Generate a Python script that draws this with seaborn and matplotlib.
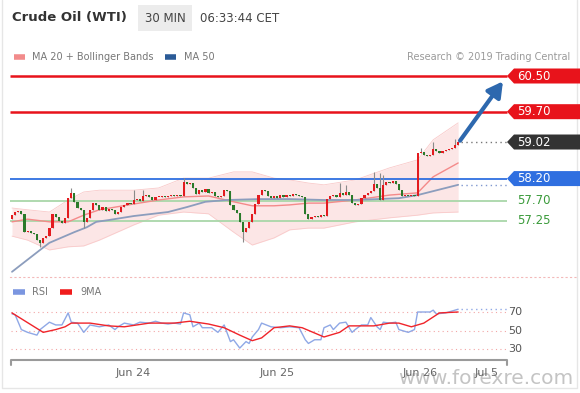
import numpy as np
import pandas as pd
import matplotlib
matplotlib.use("Agg")
import matplotlib.pyplot as plt
from matplotlib.patches import Polygon
import seaborn as sns

# 30 min candles, oldest first (bar index on x)
opens = [57.29, 57.38, 57.45, 57.47, 57.41, 57.00, 57.03, 56.98, 56.96, 56.82,
         56.76, 56.87, 56.91, 57.09, 57.41, 57.34, 57.25, 57.20, 57.32, 57.76,
         57.88, 57.68, 57.54, 57.50, 57.23, 57.32, 57.50, 57.65, 57.61, 57.50,
         57.56, 57.47, 57.52, 57.50, 57.41, 57.45, 57.56, 57.61, 57.65, 57.63,
         57.72, 57.74, 57.70, 57.81, 57.83, 57.79, 57.72, 57.79, 57.79, 57.81,
         57.79, 57.81, 57.83, 57.81, 57.83, 57.81, 58.12, 58.08, 58.10, 57.99,
         57.85, 57.94, 57.90, 57.97, 57.88, 57.90, 57.81, 57.79, 57.81, 57.94,
         57.92, 57.61, 57.50, 57.43, 57.23, 57.00, 57.09, 57.23, 57.41, 57.63,
         57.83, 57.94, 57.92, 57.81, 57.76, 57.81, 57.76, 57.83, 57.79, 57.83,
         57.81, 57.85, 57.83, 57.81, 57.79, 57.41, 57.29, 57.34, 57.36, 57.34,
         57.38, 57.36, 57.74, 57.81, 57.83, 57.79, 57.88, 57.83, 57.90, 57.83,
         57.65, 57.61, 57.63, 57.76, 57.83, 57.88, 57.92, 58.08, 57.99, 57.72,
         58.06, 58.12, 58.10, 58.15, 58.08, 57.94, 57.81, 57.83, 57.81, 57.83,
         57.81, 58.77, 58.80, 58.73, 58.71, 58.73, 58.86, 58.82, 58.77, 58.82,
         58.84, 58.86, 58.89, 58.95]
closes = [57.38, 57.45, 57.47, 57.41, 57.00, 57.03, 56.98, 56.96, 56.82, 56.76,
          56.87, 56.91, 57.09, 57.41, 57.34, 57.25, 57.20, 57.32, 57.76, 57.88,
          57.68, 57.54, 57.50, 57.23, 57.32, 57.50, 57.65, 57.61, 57.50, 57.56,
          57.47, 57.52, 57.50, 57.41, 57.45, 57.56, 57.61, 57.65, 57.63, 57.72,
          57.74, 57.70, 57.81, 57.83, 57.79, 57.72, 57.79, 57.79, 57.81, 57.79,
          57.81, 57.83, 57.81, 57.83, 57.81, 58.12, 58.08, 58.10, 57.99, 57.85,
          57.94, 57.90, 57.97, 57.88, 57.90, 57.81, 57.79, 57.81, 57.94, 57.92,
          57.61, 57.50, 57.43, 57.23, 57.00, 57.09, 57.23, 57.41, 57.63, 57.83,
          57.94, 57.92, 57.81, 57.76, 57.81, 57.76, 57.83, 57.79, 57.83, 57.81,
          57.85, 57.83, 57.81, 57.79, 57.41, 57.29, 57.34, 57.36, 57.34, 57.38,
          57.36, 57.74, 57.81, 57.83, 57.79, 57.88, 57.83, 57.90, 57.83, 57.65,
          57.61, 57.63, 57.76, 57.83, 57.88, 57.92, 58.08, 57.99, 57.72, 58.06,
          58.12, 58.10, 58.15, 58.08, 57.94, 57.81, 57.83, 57.81, 57.83, 57.81,
          58.77, 58.80, 58.73, 58.71, 58.73, 58.86, 58.82, 58.77, 58.82, 58.84,
          58.86, 58.89, 58.95, 59.02]
# bars with visible shadows
wick_bars = [9, 19, 23, 39, 42, 55, 74, 105, 107, 116, 118, 119, 131, 135, 142]
wick_highs = [56.82, 57.99, 57.50, 57.94, 57.94, 58.21, 57.23, 58.10, 58.06,
              58.35, 58.33, 58.28, 58.89, 59.02, 59.09]
wick_lows = [56.67, 57.76, 57.09, 57.63, 57.70, 57.81, 56.78, 57.79, 57.83,
             57.92, 57.72, 57.72, 58.77, 58.73, 58.89]

# MA 20 + Bollinger bands
ma_bars = [0, 5, 12, 18, 23, 28, 39, 47, 55, 63, 71, 77, 84, 89, 95, 100, 110, 121, 130, 135, 143]
ma20 = [57.23, 57.29, 57.23, 57.23, 57.38, 57.50, 57.63, 57.72, 57.79, 57.81, 57.68,
        57.59, 57.59, 57.61, 57.65, 57.65, 57.72, 57.83, 57.88, 58.24, 58.55]
bb_upper = [57.54, 57.50, 57.45, 57.72, 57.90, 57.94, 57.94, 57.99, 58.21, 58.21, 58.35,
            58.35, 58.21, 58.17, 58.10, 58.06, 58.17, 58.44, 58.62, 59.07, 59.45]
bb_lower = [56.91, 56.82, 56.60, 56.67, 56.69, 56.82, 57.16, 57.38, 57.45, 57.41, 57.00,
            56.71, 56.87, 57.05, 57.09, 57.09, 57.23, 57.32, 57.38, 57.43, 57.45]

# MA 50
ma50_bars = [0, 9, 12, 20, 24, 27, 31, 39, 50, 56, 62, 69, 79, 89, 100, 110, 124, 130, 143]
ma50 = [56.11, 56.60, 56.76, 57.00, 57.11, 57.23, 57.27, 57.36, 57.45, 57.56,
        57.68, 57.72, 57.74, 57.74, 57.72, 57.72, 57.76, 57.83, 58.06]

# RSI and its 9 period MA
rsi_bars = [0, 1, 3, 5, 8, 9, 12, 14, 16, 18, 19, 21, 23, 25, 28, 31, 33, 34, 36, 39,
            41, 44, 46, 48, 50, 52, 54, 55, 57, 58, 60, 61, 64, 66, 68, 70, 71, 73, 75, 76,
            77, 79, 80, 83, 86, 89, 92, 94, 95, 97, 99, 100, 102, 103, 105, 107, 109, 110, 112, 114,
            115, 117, 118, 119, 121, 123, 124, 127, 129, 130, 132, 134, 135, 136, 139, 143]
rsi_vals = [68, 67, 51, 48, 45, 51, 59, 56, 56, 69, 59, 58, 48, 56, 54, 56, 51, 54, 58, 56,
            59, 58, 60, 58, 57, 58, 57, 69, 67, 54, 58, 53, 53, 48, 56, 38, 40, 31, 38, 36,
            43, 51, 58, 54, 53, 54, 53, 40, 36, 40, 40, 53, 56, 51, 58, 59, 48, 51, 56, 56,
            64, 54, 51, 59, 58, 59, 51, 48, 51, 70, 70, 70, 72, 68, 69, 73]
ma9_bars = [0, 10, 14, 17, 19, 25, 31, 36, 44, 52, 57, 63, 68, 73, 77, 80, 84, 89, 93, 100,
            105, 108, 116, 121, 124, 128, 132, 137, 143]
ma9_vals = [69, 48, 51, 54, 58, 58, 55, 54, 58, 58, 60, 57, 53, 45, 39, 42, 53, 55, 53, 43,
            48, 55, 55, 58, 58, 54, 58, 69, 70]

resistances = [60.50, 59.70]
pivot = 58.20
supports = [57.70, 57.25]
last_price = 59.02
rsi_levels = [70, 50, 30]
day_labels = ["Jun 24", "Jun 25", "Jun 26", "Jul 5"]
day_bars = [38.8, 84.9, 130.8, 152.2]

RED = "#e8131b"
BLUE = "#2f6fe0"
GREEN_TXT = "#3b9b3b"
GREEN_LINE = "#a9d7a9"
UP = "#e31b1f"
DOWN = "#2a7a2a"

W, H = 580, 393
PX = 3.12            # pixels per bar
PRICE_PX = 44.6      # pixels per 1.00 of price
RSI_PX = 0.925       # pixels per RSI point


def box(l, t, r, b):
    return [l / W, 1 - b / H, (r - l) / W, (b - t) / H]


sns.set_style("white")
plt.rcParams["font.family"] = ["DejaVu Sans"]

fig = plt.figure(figsize=(W / 100, H / 100), dpi=100, facecolor="white")

# overlay for header texts and frame
ov = fig.add_axes([0, 0, 1, 1])
ov.set_xlim(0, W)
ov.set_ylim(H, 0)
ov.axis("off")
ov.plot([2, 2, 577, 577], [0, 388, 388, 0], color="#e6e6e6", lw=1)
ov.text(12, 18, "Crude Oil (WTI)", fontsize=9.5, fontweight="bold", color="#333333", va="center")
ov.text(165, 18, "30 MIN", fontsize=8.5, color="#444444", va="center", ha="center",
        bbox=dict(boxstyle="square,pad=0.55", fc="#ececec", ec="none"))
ov.text(200, 18, "06:33:44 CET", fontsize=8.5, color="#444444", va="center")
ov.plot([14, 25], [57, 57], color="#f28b8b", lw=4, solid_capstyle="butt")
ov.text(32, 57, "MA 20 + Bollinger Bands", fontsize=7, color="#777777", va="center")
ov.plot([165, 176], [57, 57], color="#2b5b97", lw=4, solid_capstyle="butt")
ov.text(184, 57, "MA 50", fontsize=7, color="#777777", va="center")
ov.text(570, 57, "Research \u00a9 2019 Trading Central", fontsize=7, color="#9a9a9a",
        va="center", ha="right")
ov.plot([13, 25], [292, 292], color="#7b96e0", lw=4, solid_capstyle="butt")
ov.text(32, 292, "RSI", fontsize=7, color="#777777", va="center")
ov.plot([60, 72], [292, 292], color="#f01c1c", lw=4, solid_capstyle="butt")
ov.text(80, 292, "9MA", fontsize=7, color="#777777", va="center")
ov.text(486, 379, "www.forexre.com", fontsize=14.5, color="#c4c4c4", va="center", ha="center",
        zorder=10)

# ---------------- price panel ----------------
ax = fig.add_axes(box(10, 65, 578, 277))
ax.set_facecolor("none")
x0, x1 = (10 - 12) / PX, (578 - 12) / PX
ax.set_xlim(x0, x1)
ax.set_ylim(60.50 - (277 - 76) / PRICE_PX, 60.50 + (76 - 65) / PRICE_PX)
for s in ["top", "left", "right"]:
    ax.spines[s].set_visible(False)
ax.spines["bottom"].set_color("#f3b9b9")
ax.spines["bottom"].set_linestyle((0, (1, 3)))
ax.set_xticks([])
ax.set_yticks([])
ax.set_xlabel("")
ax.set_ylabel("")

line_end = (507 - 12) / PX
body_left = (514 - 12) / PX
label_x = (517 - 12) / PX
half = 7.5 / PRICE_PX


def tag(y, text, fc):
    ax.add_patch(Polygon([(line_end, y), (body_left, y + half), (x1 + 1, y + half),
                          (x1 + 1, y - half), (body_left, y - half)],
                         closed=True, fc=fc, ec="none", clip_on=False, zorder=5))
    ax.text(label_x, y, text, color="white", fontsize=8.5, va="center", ha="left", zorder=6)


# bollinger band + moving averages
ax.fill_between(ma_bars, bb_lower, bb_upper, color="#fcdede", alpha=0.75, lw=0, zorder=1)
ax.plot(ma_bars, bb_upper, color="#f9caca", lw=0.6, zorder=1)
ax.plot(ma_bars, bb_lower, color="#f9caca", lw=0.6, zorder=1)
ma_df = pd.DataFrame({"bar": ma_bars, "ma20": ma20})
sns.lineplot(data=ma_df, x="bar", y="ma20", ax=ax, color="#f48a8a", lw=1, zorder=2)
ma50_df = pd.DataFrame({"bar": ma50_bars, "ma50": ma50})
sns.lineplot(data=ma50_df, x="bar", y="ma50", ax=ax, color="#8c9dbd", lw=1.3, zorder=2)

# key levels
for lv in resistances:
    ax.hlines(lv, x0, line_end, color=RED, lw=1.8, zorder=3)
    tag(lv, f"{lv:.2f}", RED)
ax.hlines(pivot, x0, line_end, color=BLUE, lw=1.3, zorder=3)
tag(pivot, f"{pivot:.2f}", BLUE)
for lv in supports:
    ax.hlines(lv, x0, line_end, color=GREEN_LINE, lw=1.3, zorder=1.5)
    ax.text(label_x, lv, f"{lv:.2f}", color=GREEN_TXT, fontsize=8.5, va="center", ha="left")

# candles
bars = np.arange(len(closes))
o = np.array(opens)
c = np.array(closes)
highs = np.maximum(o, c)
lows = np.minimum(o, c)
highs[wick_bars] = wick_highs
lows[wick_bars] = wick_lows
colors = np.where(c >= o, UP, DOWN)
ax.vlines(bars, lows, highs, color="#8a8a8a", lw=0.8, zorder=3.5)
body = np.maximum(np.abs(c - o), 0.025)
ax.bar(bars, body, bottom=np.minimum(o, c), width=0.7, color=colors, lw=0, zorder=4)

# last price, MA50 extension and projected move
last_bar = bars[-1]
ax.hlines(last_price, last_bar + 1, line_end, color="#777777", lw=1, linestyles=(0, (1, 2.5)))
tag(last_price, f"{last_price:.2f}", "#333333")
ax.hlines(ma50[-1], last_bar + 1, line_end, color="#7f97cf", lw=1, linestyles=(0, (1, 2.5)))
ax.annotate("", xy=(line_end - 1.3, resistances[0] - 0.12), xytext=(last_bar + 0.6, last_price + 0.03),
            arrowprops=dict(arrowstyle="-|>,head_length=0.9,head_width=0.5", lw=3,
                            color="#2d68ae", shrinkA=0, shrinkB=0, mutation_scale=10),
            zorder=7, annotation_clip=False)

# ---------------- RSI panel ----------------
rx = fig.add_axes(box(10, 280, 578, 367))
rx.set_facecolor("none")
rx.set_xlim(x0, x1)
rx.set_ylim(70 - (367 - 312) / RSI_PX, 70 + (312 - 280) / RSI_PX)
for s in rx.spines.values():
    s.set_visible(False)
rx.set_xticks([])
rx.set_yticks([])

for lv in rsi_levels:
    rx.hlines(lv, x0 + 0.3, line_end, color="#f2a6a6", lw=0.8, linestyles=(0, (1, 3)))
    rx.text((508 - 12) / PX, lv, str(lv), color="#555555", fontsize=8, va="center", ha="left")

rsi_df = pd.DataFrame({"bar": rsi_bars, "rsi": rsi_vals})
ma9_df = pd.DataFrame({"bar": ma9_bars, "ma9": ma9_vals})
sns.lineplot(data=rsi_df, x="bar", y="rsi", ax=rx, color="#8fa8e6", lw=1, zorder=3)
sns.lineplot(data=ma9_df, x="bar", y="ma9", ax=rx, color="#f0242a", lw=1, zorder=4)
rx.hlines(rsi_vals[-1], rsi_bars[-1] + 1, line_end, color="#8fa8e6", lw=1, linestyles=(0, (1, 2.5)))
rx.set_xlabel("")
rx.set_ylabel("")

# time axis
axis_y = 70 - (360 - 312) / RSI_PX
tick_len = 5 / RSI_PX
ax_left = (11 - 12) / PX
rx.plot([ax_left, ax_left, line_end, line_end],
        [axis_y - tick_len, axis_y, axis_y, axis_y - tick_len],
        color="#9a9a9a", lw=1.5, clip_on=False)
for lab, pos in zip(day_labels, day_bars):
    rx.text(pos, 70 - (373 - 312) / RSI_PX, lab, color="#666666", fontsize=8,
            ha="center", va="center")

fig.savefig("out.png", dpi=100, facecolor="white")
plt.close(fig)
